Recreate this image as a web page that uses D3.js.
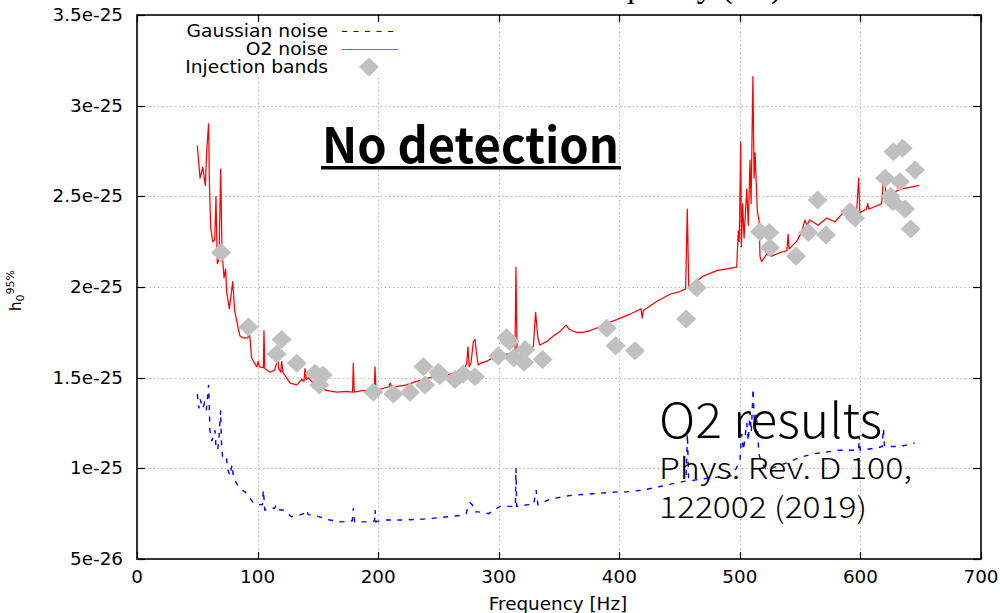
<!DOCTYPE html>
<html>
<head>
<meta charset="utf-8">
<script src="https://cdn.jsdelivr.net/npm/d3@7"></script>
<style>
  html, body { margin: 0; padding: 0; background: #fff; }
  svg { display: block; }
  .sans { font-family: "DejaVu Sans", sans-serif; font-size: 17px; fill: #000; }
</style>
</head>
<body>
<svg id="chart" width="1000" height="613"></svg>
<script>
// Upper limit h0 (95%) versus frequency; amplitudes are in units of 1e-25.
const xTicks = [0, 100, 200, 300, 400, 500, 600, 700];
const yTicks = [0.5, 1.0, 1.5, 2.0, 2.5, 3.0, 3.5];
const yTickLabels = ["5e-26", "1e-25", "1.5e-25", "2e-25", "2.5e-25", "3e-25", "3.5e-25"];

// O2 noise curve: [frequency Hz, h0 / 1e-25]
const o2Noise = [
  [50,2.78],[52.3,2.60],[54.5,2.66],[56.7,2.56],[57.8,2.75],[59.4,2.90],[60,2.59],[61.1,2.33],
  [62.8,2.25],[64.5,2.26],[65.5,2.50],[66.6,2.13],[68,2.15],[69.4,2.65],[70.5,2.19],[72.2,2.05],
  [73.5,2.10],[74.4,1.97],[76.6,1.88],[79.4,2.03],[81,1.87],[84,1.77],[85.4,1.73],[88,1.72],
  [92,1.72],[93,1.75],[94,1.70],[95,1.61],[99.3,1.56],[100.5,1.59],[101.5,1.56],[104.8,1.555],
  [105.3,1.76],[106,1.55],[110.3,1.53],[114,1.54],[115.8,1.58],[116.6,1.64],[117.5,1.55],
  [119.3,1.53],[120,1.59],[121,1.53],[127,1.47],[132.5,1.46],[136.6,1.49],[138.5,1.48],
  [139.3,1.55],[140.5,1.49],[142,1.50],[149,1.45],[157.3,1.43],[165.6,1.42],[174,1.425],
  [178.8,1.42],[179.4,1.58],[180.2,1.42],[187.6,1.43],[196.8,1.42],[197.4,1.56],[198.2,1.43],
  [209,1.45],[210,1.47],[211,1.45],[215.3,1.45],[223.6,1.46],[231.9,1.48],[243,1.50],
  [259.6,1.52],[270.6,1.54],[273.5,1.58],[274.5,1.67],[275.5,1.56],[277,1.58],[279,1.70],
  [280.4,1.71],[281.5,1.64],[283,1.57],[285,1.58],[290,1.59],[295,1.61],[301,1.62],
  [306.6,1.63],[313.5,1.635],[314.3,2.11],[315.2,1.635],[316.5,1.62],[320,1.63],[325,1.65],
  [328.7,1.67],[330.6,1.86],[332.5,1.72],[334.2,1.68],[340,1.70],[345.3,1.73],[350,1.75],
  [355.8,1.79],[358,1.77],[360.5,1.76],[364.7,1.75],[370,1.75],[375.8,1.76],[384,1.78],
  [389.6,1.80],[397.9,1.82],[408.9,1.85],[418,1.88],[419,1.83],[420,1.87],[431,1.92],
  [442,1.96],[450,1.975],[455,1.99],[456.4,2.43],[457.6,2.00],[469.7,2.06],[480.8,2.09],
  [489,2.10],[497.4,2.11],[498.7,2.31],[499.5,2.25],[500.7,2.80],[501.3,2.22],[502.3,2.46],
  [503.5,2.27],[505.7,2.54],[507,2.34],[508.4,2.70],[509.3,2.46],[510.8,3.16],[511.8,2.60],
  [512.6,2.74],[514.5,2.42],[516,2.36],[516.7,2.17],[518,2.14],[522.2,2.18],[526.4,2.17],
  [533.3,2.19],[539,2.20],[540,2.29],[540.8,2.21],[547,2.25],[551,2.30],[554,2.37],
  [555.5,2.34],[558,2.37],[565,2.34],[572,2.38],[579,2.36],[583,2.39],[586,2.41],[597,2.43],
  [598.5,2.60],[599.5,2.41],[605,2.43],[606,2.46],[607,2.43],[610.7,2.44],[617.6,2.46],
  [619,2.59],[620,2.64],[621,2.50],[633,2.54],[641,2.55],[648.8,2.56]
];

// Gaussian noise curve: [frequency Hz, h0 / 1e-25]
const gaussianNoise = [
  [50,1.41],[51.3,1.33],[52.5,1.38],[54.5,1.33],[56,1.36],[57.5,1.32],[59.4,1.46],[59.9,1.35],
  [60.5,1.21],[62,1.15],[63.5,1.18],[64.7,1.21],[65.5,1.12],[67,1.10],[68,1.17],[69.4,1.32],
  [70,1.15],[71,1.06],[72.5,1.04],[74.4,1.05],[75,1.00],[77,0.96],[78.9,1.02],[80,0.95],
  [84,0.90],[87,0.88],[89.6,0.87],[93,0.84],[96.5,0.81],[100.6,0.80],[104,0.80],[104.8,0.88],
  [106,0.77],[110,0.78],[114,0.78],[115.6,0.80],[118.4,0.77],[121,0.77],[128.3,0.733],
  [134,0.74],[138,0.75],[140.7,0.77],[142,0.745],[147.6,0.74],[160,0.715],[169.7,0.705],
  [178.5,0.71],[179.4,0.78],[180.5,0.705],[193.2,0.705],[197,0.71],[197.5,0.77],[198.2,0.705],
  [204,0.715],[220.8,0.715],[237.4,0.72],[254,0.73],[268,0.74],[273,0.75],[275,0.80],
  [276.2,0.81],[278,0.80],[280,0.76],[283,0.76],[291.6,0.75],[301,0.79],[309.5,0.79],
  [313.8,0.79],[314.3,1.00],[314.9,0.79],[324.4,0.80],[329,0.80],[331,0.88],[332.5,0.80],
  [342.5,0.83],[359,0.85],[378,0.86],[397.9,0.87],[405.8,0.87],[419.6,0.88],[433.8,0.90],
  [447.6,0.92],[455.3,0.93],[456.5,1.19],[457.5,0.93],[467,0.94],[480,0.95],[493,0.96],
  [497,1.00],[500.1,1.05],[501.5,1.19],[503,1.10],[505.7,1.25],[507,1.15],[508.4,1.31],
  [509.5,1.20],[511,1.44],[512,1.25],[513.5,1.30],[514.5,1.23],[515.8,1.08],[517,1.05],
  [522,0.99],[530,1.01],[538.8,1.03],[549.8,1.06],[561,1.08],[572,1.09],[583,1.10],
  [594,1.10],[598.5,1.10],[599,1.18],[599.8,1.10],[611,1.11],[618,1.12],[619,1.22],
  [620,1.12],[626.4,1.12],[632.8,1.12],[645,1.14]
];

// Injection bands: [frequency Hz, h0 / 1e-25]
const injectionBands = [
  [69.7,2.19],[92.5,1.78],[120,1.71],[115.8,1.63],[132.5,1.58],[147.6,1.524],[154,1.515],
  [151.2,1.46],[196,1.42],[212.6,1.41],[226.4,1.42],[237.5,1.56],[238.9,1.46],[250,1.53],
  [251,1.51],[263.7,1.49],[270.6,1.52],[280.3,1.505],[299.5,1.62],[306.5,1.72],[309,1.70],
  [312.5,1.61],[321,1.585],[322,1.655],[336.4,1.60],[389.6,1.772],[397,1.676],[413,1.649],
  [455.4,1.823],[464.2,1.996],[516.7,2.305],[524.4,2.30],[525,2.217],[546.6,2.17],
  [556.8,2.30],[564.5,2.48],[571.5,2.287],[591.4,2.415],[595.5,2.38],[620.4,2.60],
  [627.3,2.746],[635,2.765],[632.8,2.58],[645.3,2.645],[625,2.50],[627,2.47],[637,2.43],
  [641.7,2.32]
];

const svg = d3.select("#chart");
const plot = { left: 137, right: 981, top: 15, bottom: 559 };
const stretch = 1.08; // slightly wide lettering for axis and key text

const x = d3.scaleLinear().domain([0, 700]).range([plot.left, plot.right]);
const y = d3.scaleLinear().domain([0.5, 3.5]).range([plot.bottom, plot.top]);

// Places a text at (px, py) with a horizontal stretch about its anchor point
function wideText(sel, px, py) {
  return sel.attr("x", 0).attr("y", 0)
    .attr("transform", `translate(${px},${py}) scale(${stretch},1)`);
}

// Partly visible serif heading above the frame
svg.append("text")
  .attr("x", 574).attr("y", -3)
  .attr("font-family", "Liberation Serif, serif")
  .attr("font-size", 33)
  .text("Frequency (Hz)");

svg.append("defs").append("clipPath").attr("id", "plotClip")
  .append("rect")
  .attr("x", plot.left).attr("y", plot.top)
  .attr("width", plot.right - plot.left).attr("height", plot.bottom - plot.top);

// Dotted grid
const grid = svg.append("g").attr("stroke", "#a8a8a8").attr("stroke-width", 1)
  .attr("stroke-dasharray", "1.2,3");
grid.selectAll("line.vx").data(xTicks.filter(t => t > 0 && t < 700)).join("line")
  .attr("x1", d => Math.round(x(d)) + 0.5).attr("x2", d => Math.round(x(d)) + 0.5)
  .attr("y1", plot.top).attr("y2", plot.bottom);
grid.selectAll("line.hy").data(yTicks.filter(t => t > 0.5 && t < 3.5)).join("line")
  .attr("y1", d => Math.round(y(d)) + 0.5).attr("y2", d => Math.round(y(d)) + 0.5)
  .attr("x1", plot.left).attr("x2", plot.right);

// Legend background hides the grid behind the key
svg.append("rect").attr("x", 176).attr("y", plot.top + 1).attr("width", 232).attr("height", 59)
  .attr("fill", "#fff");

const data = svg.append("g").attr("clip-path", "url(#plotClip)");

const line = d3.line().x(d => x(d[0])).y(d => y(d[1]));

data.append("path").datum(gaussianNoise)
  .attr("d", line)
  .attr("fill", "none").attr("stroke", "#0000ff").attr("stroke-width", 1.4)
  .attr("stroke-dasharray", "5,6.5");

data.append("path").datum(o2Noise)
  .attr("d", line)
  .attr("fill", "none").attr("stroke", "#ff0000").attr("stroke-width", 1.25)
  .attr("stroke-linejoin", "round");

const diamond = "M-10,0L0,-9.5L10,0L0,9.5Z";
data.selectAll("path.band").data(injectionBands).join("path")
  .attr("class", "band")
  .attr("d", diamond)
  .attr("transform", d => `translate(${x(d[0])},${y(d[1])})`)
  .attr("fill", "#c0c0c0");

// Frame and tick marks (mirrored on all four sides)
const frame = svg.append("g").attr("stroke", "#000");
frame.append("rect")
  .attr("x", plot.left).attr("y", plot.top)
  .attr("width", plot.right - plot.left).attr("height", plot.bottom - plot.top)
  .attr("fill", "none").attr("stroke-width", 1.6);
xTicks.forEach(t => {
  const px = Math.round(x(t)) + 0.5;
  frame.append("line").attr("x1", px).attr("x2", px).attr("y1", plot.bottom).attr("y2", plot.bottom - 7).attr("stroke-width", 1.2);
  frame.append("line").attr("x1", px).attr("x2", px).attr("y1", plot.top).attr("y2", plot.top + 7).attr("stroke-width", 1.2);
});
yTicks.forEach(t => {
  const py = Math.round(y(t)) + 0.5;
  frame.append("line").attr("y1", py).attr("y2", py).attr("x1", plot.left).attr("x2", plot.left + 8).attr("stroke-width", 1.2);
  frame.append("line").attr("y1", py).attr("y2", py).attr("x1", plot.right).attr("x2", plot.right - 8).attr("stroke-width", 1.2);
});

// Tick labels
svg.append("g").selectAll("text").data(xTicks).join("text")
  .attr("class", "sans")
  .attr("text-anchor", "middle")
  .each(function (d) { wideText(d3.select(this), x(d), 583); })
  .text(d => d);

svg.append("g").selectAll("text").data(yTicks).join("text")
  .attr("class", "sans")
  .attr("text-anchor", "end")
  .each(function (d) { wideText(d3.select(this), 123, y(d) + 6); })
  .text((d, i) => yTickLabels[i]);

// Axis titles
wideText(svg.append("text").attr("class", "sans").attr("text-anchor", "middle"), 558, 610)
  .text("Frequency [Hz]");

const yTitle = svg.append("text")
  .attr("transform", "translate(21,311) rotate(-90)")
  .attr("font-family", "DejaVu Sans, sans-serif").attr("font-size", 15);
yTitle.append("tspan").text("h");
yTitle.append("tspan").attr("font-size", 11).attr("dy", 3).text("0");
yTitle.append("tspan").attr("font-size", 11).attr("dy", -10).text("95%");

// Legend
const legendRows = [
  { label: "Gaussian noise", y: 31 },
  { label: "O2 noise", y: 49 },
  { label: "Injection bands", y: 67 }
];
const legend = svg.append("g");
legend.selectAll("text").data(legendRows).join("text")
  .attr("class", "sans")
  .attr("text-anchor", "end")
  .each(function (d) {
    d3.select(this).attr("x", 0).attr("y", 0)
      .attr("transform", `translate(328,${d.y + 6}) scale(1.1,1)`);
  })
  .text(d => d.label);
legend.append("line").attr("x1", 342).attr("x2", 395).attr("y1", 31.5).attr("y2", 31.5)
  .attr("stroke", "#0000ff").attr("stroke-width", 1.2).attr("stroke-dasharray", "5,6.5");
legend.append("line").attr("x1", 341).attr("x2", 398).attr("y1", 49.5).attr("y2", 49.5)
  .attr("stroke", "#ff4040").attr("stroke-width", 1.2);
legend.append("path").attr("d", diamond).attr("transform", "translate(369,67)").attr("fill", "#c0c0c0");

// Annotations
svg.append("text")
  .attr("x", 322).attr("y", 163)
  .attr("font-family", "Noto Sans CJK JP, Noto Sans, sans-serif")
  .attr("font-weight", "bold").attr("font-size", 49)
  .attr("textLength", 297).attr("lengthAdjust", "spacingAndGlyphs")
  .text("No detection");
svg.append("rect").attr("x", 321).attr("y", 166).attr("width", 300).attr("height", 3.5).attr("fill", "#000");

const note = svg.append("g").attr("font-family", "Noto Sans CJK JP, Noto Sans, sans-serif").attr("fill", "#000");
note.append("text").attr("x", 659).attr("y", 438).attr("font-size", 48).attr("font-weight", 300)
  .attr("textLength", 223).attr("lengthAdjust", "spacingAndGlyphs")
  .text("O2 results");
note.append("text").attr("x", 659).attr("y", 479).attr("font-size", 29).attr("font-weight", 300)
  .attr("textLength", 253).attr("lengthAdjust", "spacingAndGlyphs")
  .text("Phys. Rev. D 100,");
note.append("text").attr("x", 659).attr("y", 518).attr("font-size", 29).attr("font-weight", 300)
  .attr("textLength", 208).attr("lengthAdjust", "spacingAndGlyphs")
  .text("122002 (2019)");
</script>
</body>
</html>
